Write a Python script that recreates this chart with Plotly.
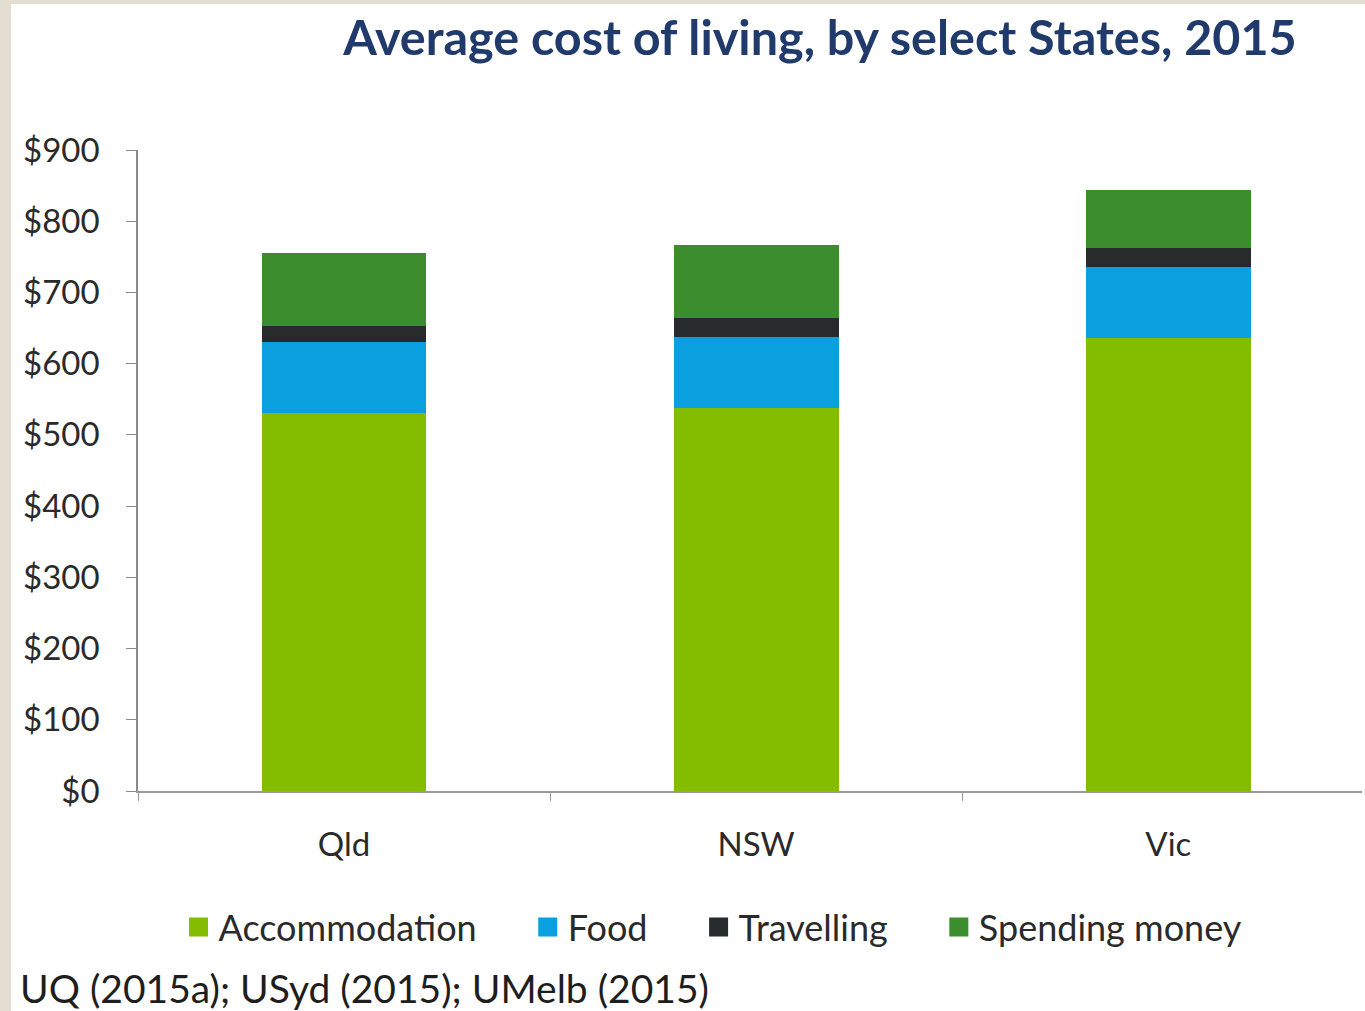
import plotly.graph_objects as go

states = ["Qld", "NSW", "Vic"]
accommodation = [531, 538, 636]
food = [99, 99, 100]
travelling = [23, 27, 26]
spending = [103, 103, 82]

series = [
    ("Accommodation", accommodation, "#84BC00"),
    ("Food", food, "#0AA0DF"),
    ("Travelling", travelling, "#272B2C"),
    ("Spending money", spending, "#3C8D2D"),
]

y_ticks = [0, 100, 200, 300, 400, 500, 600, 700, 800, 900]
y_tick_labels = ["$" + str(v) for v in y_ticks]
title_text = "Average cost of living, by select States, 2015"
source_text = "UQ (2015a); USyd (2015); UMelb (2015)"

fig = go.Figure()
for name, vals, col in series:
    fig.add_trace(go.Bar(x=states, y=vals, name=name, marker=dict(color=col, line=dict(width=0)),
                         width=0.4, showlegend=False))
# legend entries with larger square swatches
pad = "\u00a0" * 5
for i, (name, vals, col) in enumerate(series):
    label = name + (pad if i < len(series) - 1 else "")
    fig.add_trace(go.Scatter(x=[None], y=[None], mode="markers", name=label,
                             marker=dict(symbol="square", size=16, color=col,
                                         line=dict(color=col, width=3))))

W, H = 1365, 1011
L, R, T, B = 138, 3, 150, 220
pw = W - L - R
ph = H - T - B

def px_x(p):
    return (p - L) / pw

def px_y(p):
    return (H - B - p) / ph

fig.add_shape(type="rect", xref="paper", yref="paper", x0=px_x(11), x1=px_x(1370),
              y0=px_y(1015), y1=px_y(4), fillcolor="white", line=dict(width=0), layer="below")

fig.update_layout(
    width=W, height=H,
    margin=dict(l=L, r=R, t=T, b=B, pad=0),
    paper_bgcolor="#E4DDD2",
    plot_bgcolor="white",
    barmode="stack",
    font=dict(family="Lato, 'Open Sans', sans-serif", color="#2a2a2a", size=30),
    title=dict(text="<b>" + title_text + "</b>", font=dict(size=48.5, color="#1F3A6B"),
               x=820 / W, xanchor="center", y=1 - 38 / H, yanchor="middle"),
    xaxis=dict(range=[-0.5, 2.47], showline=True, linecolor="#9a9a9a", linewidth=2,
               ticks="outside", tickson="boundaries", ticklen=8, tickcolor="#9a9a9a",
               ticklabelstandoff=23, tickfont=dict(size=33, color="#2a2a2a"), showgrid=False,
               fixedrange=True),
    yaxis=dict(range=[0, 900], tickvals=y_ticks, ticktext=y_tick_labels, showline=True,
               linecolor="#8a8a8a", linewidth=1.5, ticks="outside", ticklen=10,
               tickcolor="#8a8a8a", ticklabelstandoff=20, showgrid=False, zeroline=False,
               tickfont=dict(size=33, color="#2a2a2a")),
    legend=dict(orientation="h", x=px_x(713), xanchor="center", y=px_y(927), yanchor="middle",
                traceorder="normal", font=dict(size=36, color="#2a2a2a"), bgcolor="rgba(0,0,0,0)",
                itemsizing="trace"),
    bargap=0.6,
)

fig.add_annotation(text=source_text, xref="paper", yref="paper", x=px_x(18), y=px_y(988),
                   xanchor="left", yanchor="middle", showarrow=False,
                   font=dict(size=39, color="#1e1e1e"))

fig.write_html("out.html")
